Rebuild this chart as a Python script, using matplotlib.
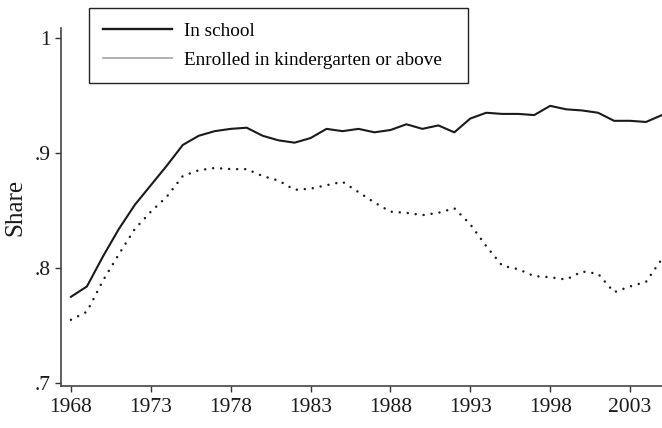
import matplotlib
matplotlib.use("Agg")
import matplotlib.pyplot as plt
from matplotlib.lines import Line2D

plt.rcParams['font.family'] = ['Liberation Serif', 'DejaVu Serif']

years = list(range(1968, 2006))

in_school = [0.775, 0.784, 0.810, 0.834, 0.855, 0.872, 0.889, 0.907, 0.915, 0.919,
             0.921, 0.922, 0.915, 0.911, 0.909, 0.913, 0.921, 0.919, 0.921, 0.918,
             0.920, 0.925, 0.921, 0.924, 0.918, 0.930, 0.935, 0.934, 0.934, 0.933,
             0.941, 0.938, 0.937, 0.935, 0.928, 0.928, 0.927, 0.933]

enrolled = [0.755, 0.762, 0.789, 0.812, 0.834, 0.849, 0.862, 0.880, 0.885, 0.887,
            0.886, 0.886, 0.880, 0.876, 0.868, 0.869, 0.872, 0.875, 0.866, 0.857,
            0.849, 0.848, 0.846, 0.848, 0.852, 0.838, 0.819, 0.802, 0.799, 0.793,
            0.792, 0.790, 0.797, 0.795, 0.779, 0.784, 0.788, 0.808]

labels = ["In school", "Enrolled in kindergarten or above"]
xticks = list(range(1968, 2004, 5))
yticks = [0.7, 0.8, 0.9, 1.0]
ytick_labels = [".7", ".8", ".9", "1"]

fig = plt.figure(figsize=(6.62, 4.28), dpi=100)
ax = fig.add_axes([0.0921, 0.098, 0.9079, 0.8366])

ax.plot(years, in_school, color="#1a1a1a", lw=1.5)
ax.plot(years, enrolled, color="#1a1a1a", lw=1.8, linestyle=(0, (0.01, 3.2)),
        dash_capstyle="round")

ax.set_xlim(1967.375, 2005)
ax.set_ylim(0.6974, 1.0087)
ax.set_xticks(xticks)
ax.set_yticks(yticks)
ax.set_yticklabels(ytick_labels)
ax.tick_params(direction="out", length=4.5, width=1, colors="#333333",
               labelcolor="#1a1a1a", labelsize=15.5)
ax.tick_params(axis="y", pad=3)
ax.tick_params(axis="x", pad=4)
for s in ["top", "right"]:
    ax.spines[s].set_visible(False)
for s in ["left", "bottom"]:
    ax.spines[s].set_color("#444444")
    ax.spines[s].set_linewidth(1.2)
ax.set_ylabel("Share", fontsize=18, color="#1a1a1a", labelpad=6)

handles = [Line2D([], [], color="#1a1a1a", lw=1.7),
           Line2D([], [], color="#aaaaaa", lw=1.3)]
leg = fig.legend(handles, labels, loc="upper left",
                 bbox_to_anchor=(89 / 662, 0, 379 / 662, 1 - 8 / 428), mode="expand",
                 fontsize=13.8, frameon=True, fancybox=False, handlelength=3.6,
                 handletextpad=0.6, labelspacing=0.62, borderpad=0.75,
                 borderaxespad=0, edgecolor="#222222")
leg.get_frame().set_linewidth(1.0)
leg.get_frame().set_alpha(1)

fig.savefig("out.png", dpi=100)
